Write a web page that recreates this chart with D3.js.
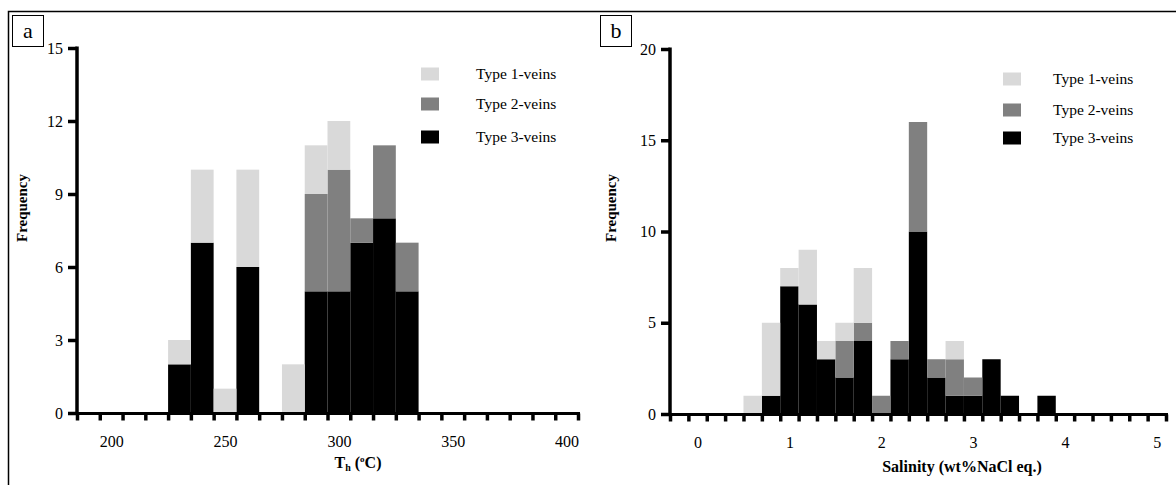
<html>

<head>
    <script src="https://d3js.org/d3.v7.min.js"></script>
    <style>
        body { margin: 0; background: #fff; }
        text { font-family: "Liberation Serif", "Times New Roman", serif; fill: #000; }
    </style>
</head>

<body>
    <script>
        // legend names + colours (type 1 on top of the stack, type 3 at the bottom)
        var typeNames = ["Type 1-veins", "Type 2-veins", "Type 3-veins"];
        var typeColors = ["#d9d9d9", "#808080", "#000000"];

        // panel a : homogenisation temperature, 10 degC bins (bin centres)
        var thBins = [230, 240, 250, 260, 280, 290, 300, 310, 320, 330];
        var thType1 = [1, 3, 1, 4, 2, 2, 2, 0, 0, 0];
        var thType2 = [0, 0, 0, 0, 0, 4, 5, 1, 3, 2];
        var thType3 = [2, 7, 0, 6, 0, 5, 5, 7, 8, 5];
        var thXLabels = [200, 250, 300, 350, 400];
        var thYLabels = [0, 3, 6, 9, 12, 15];

        // panel b : salinity, 0.2 wt% bins (bin centres)
        var salBins = [0.6, 0.8, 1.0, 1.2, 1.4, 1.6, 1.8, 2.0, 2.2, 2.4, 2.6, 2.8, 3.0, 3.2, 3.4, 3.8];
        var salType1 = [1, 4, 1, 3, 1, 1, 3, 0, 0, 0, 0, 1, 0, 0, 0, 0];
        var salType2 = [0, 0, 0, 0, 0, 2, 1, 1, 1, 6, 1, 2, 1, 0, 0, 0];
        var salType3 = [0, 1, 7, 6, 3, 2, 4, 0, 3, 10, 2, 1, 1, 3, 1, 1];
        var salXLabels = [0, 1, 2, 3, 4, 5];
        var salYLabels = [0, 5, 10, 15, 20];

        var svg = d3.select("body").append("svg")
            .attr("width", 1176)
            .attr("height", 485);

        // outer frame (top + left only)
        svg.append("path")
            .attr("d", "M8.5,485V11.5H1176")
            .attr("fill", "none")
            .attr("stroke", "#000")
            .attr("stroke-width", 1.5);

        function panel(p) {
            var g = svg.append("g");
            var x = d3.scaleLinear().domain(p.xDomain).range(p.xRange);
            var y = d3.scaleLinear().domain([0, p.yMax]).range(p.yRange);

            var rows = p.bins.map(function (b, i) {
                return { bin: b, t3: p.t3[i], t2: p.t2[i], t1: p.t1[i] };
            });
            var stack = d3.stack().keys(["t3", "t2", "t1"])(rows);
            var colorOf = { t1: typeColors[0], t2: typeColors[1], t3: typeColors[2] };

            g.selectAll("g.layer")
                .data(stack)
                .enter().append("g")
                .attr("fill", function (d) { return colorOf[d.key]; })
                .selectAll("rect")
                .data(function (d) { return d; })
                .enter().append("rect")
                .attr("x", function (d) { return x(d.data.bin - p.binW / 2); })
                .attr("width", function (d) { return x(d.data.bin + p.binW / 2) - x(d.data.bin - p.binW / 2); })
                .attr("y", function (d) { return y(d[1]); })
                .attr("height", function (d) { return y(d[0]) - y(d[1]); });

            // x axis: ticks on bin edges, labels on values
            var edges = d3.range(p.xDomain[0], p.xDomain[1] + p.binW / 2, p.binW);
            var xa = g.append("g")
                .attr("transform", "translate(0," + (y(0) + 0.5) + ")")
                .call(d3.axisBottom(x).tickValues(edges).tickFormat("").tickSizeInner(7).tickSizeOuter(0));
            xa.select(".domain").attr("stroke-width", 3).attr("d", "M" + (p.xRange[0] - 9) + ",0H" + (p.xRange[1] + 2));
            xa.selectAll(".tick line").attr("stroke-width", 3.5);

            g.append("g")
                .attr("transform", "translate(0," + (y(0) + 20) + ")")
                .call(d3.axisBottom(x).tickValues(p.xLabels).tickFormat(d3.format("d")).tickSize(0))
                .call(function (a) {
                    a.select(".domain").remove();
                    a.selectAll("text").attr("font-size", 16).attr("font-family", "Liberation Serif");
                });

            // y axis
            var ya = g.append("g")
                .attr("transform", "translate(" + p.xRange[0] + ",0)")
                .call(d3.axisLeft(y).tickValues(p.yLabels).tickSizeInner(9).tickSizeOuter(0).tickPadding(5));
            ya.select(".domain").attr("stroke-width", 3.5).attr("d", "M0," + (y(p.yMax) - 1.5) + "V" + (y(0) + 2));
            ya.selectAll(".tick line").attr("stroke-width", 3.5);
            ya.selectAll("text").attr("font-size", 16).attr("font-family", "Liberation Serif");

            // axis titles
            g.append("text")
                .attr("transform", "translate(" + p.yTitleX + "," + p.yTitleY + ") rotate(-90)")
                .attr("text-anchor", "middle")
                .attr("font-size", 15)
                .attr("font-weight", "bold")
                .text("Frequency");

            var t = g.append("text")
                .attr("x", p.xTitleX)
                .attr("y", p.xTitleY)
                .attr("text-anchor", "middle")
                .attr("font-size", 16)
                .attr("font-weight", "bold");
            p.xTitle(t);

            // panel letter box
            g.append("rect")
                .attr("x", p.boxX + 0.5).attr("y", 15.5)
                .attr("width", 31).attr("height", 31)
                .attr("fill", "#fff").attr("stroke", "#000");
            g.append("text")
                .attr("x", p.boxX + 16).attr("y", 38)
                .attr("text-anchor", "middle")
                .attr("font-size", 22)
                .text(p.letter);

            // legend
            var lg = g.selectAll("g.leg")
                .data(typeNames)
                .enter().append("g")
                .attr("transform", function (d, i) { return "translate(" + p.legX + "," + p.legY[i] + ")"; });
            lg.append("rect")
                .attr("x", 0).attr("y", -6.5)
                .attr("width", 18).attr("height", 13)
                .attr("fill", function (d, i) { return typeColors[i]; });
            lg.append("text")
                .attr("x", p.legTextDx).attr("y", 5)
                .attr("font-size", 15.5)
                .text(function (d) { return d; });
        }

        panel({
            bins: thBins, t1: thType1, t2: thType2, t3: thType3, binW: 10,
            xDomain: [185, 405], xRange: [77, 578],
            yMax: 15, yRange: [413, 48],
            xLabels: thXLabels, yLabels: thYLabels,
            yTitleX: 27, yTitleY: 208,
            xTitleX: 358, xTitleY: 468,
            xTitle: function (t) {
                t.append("tspan").text("T");
                t.append("tspan").attr("font-size", 10).attr("dy", 3).text("h");
                t.append("tspan").attr("dy", -3).text(" (");
                t.append("tspan").attr("font-size", 9).attr("dy", -6).text("o");
                t.append("tspan").attr("dy", 6).text("C)");
            },
            boxX: 12, letter: "a",
            legX: 421, legY: [74, 104, 137], legTextDx: 55
        });

        panel({
            bins: salBins, t1: salType1, t2: salType2, t3: salType3, binW: 0.2,
            xDomain: [-0.3, 5.1], xRange: [670, 1166],
            yMax: 20, yRange: [414, 49],
            xLabels: salXLabels, yLabels: salYLabels,
            yTitleX: 616, yTitleY: 208,
            xTitleX: 962, xTitleY: 472,
            xTitle: function (t) { t.text("Salinity (wt%NaCl eq.)"); },
            boxX: 600, letter: "b",
            legX: 1003, legY: [79, 110, 138], legTextDx: 50
        });
    </script>
</body>

</html>
